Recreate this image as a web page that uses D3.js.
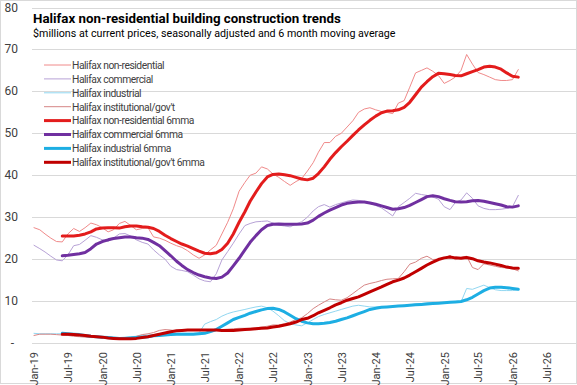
<!DOCTYPE html>
<html>
<head>
<meta charset="utf-8">
<style>
  body {
    margin: 0;
    background: #fff;
  }
  svg text {
    font-family: Roboto, "Liberation Sans", sans-serif;
  }
</style>
<script type="text/javascript" src="https://d3js.org/d3.v7.min.js"></script>
</head>
<body>
<svg id="chart"></svg>
<script type="text/javascript">
// monthly series, Jan-19 .. Feb-26 ($ millions)
let startMonth = new Date(2019, 0, 1)

let nonResidential = [27.5,27,26,25,24.2,24.1,26,27.3,26.6,27.5,
  28.6,28.2,27.5,26.5,27,28.5,29,28,27,27.3,
  27.5,25.3,25,24.5,23.8,23.2,22.8,22,21,20.2,
  21,22.2,23.3,26,28.8,32,36.2,38.3,40,40.5,
  42,41.5,40.3,39.5,38.5,37.6,38.5,39.2,41,43,
  45.5,47.8,47.8,49.3,50,51.5,53,55,55.8,56.1,
  55.6,55.2,55,54.7,57.2,57.8,61,64.4,65,65.6,
  64.8,63.8,61.9,62.6,63.4,65,68.8,66.5,64.5,64,
  63.4,62.8,62.6,62.6,62.8,65.2]

let commercial = [23.3,22.5,21.7,20.7,19.8,19.6,21,23.2,23.5,24.5,
  25.6,25.2,24.6,24.2,25,26,26.1,25.5,24.6,24,
  23.6,22.2,21,20,18.3,17.5,17.3,17,16.2,15.3,
  14.8,14.6,16.5,19.8,21.8,23.8,26,28,28.5,28.9,
  29,29.1,28.6,28.1,27.9,27.7,28.4,28.9,30,31.5,
  32.5,33,32.4,33,33.4,33.8,34.1,34,33.7,33.3,
  32.8,32.2,31.3,30.3,32.5,33.5,34.5,35.7,35.4,35.2,
  34.8,34.3,32.5,31.8,33.5,34.1,35.8,34.5,32.7,32.1,
  31.8,31.8,31.9,32.1,32.5,35.2]

let industrial = [2.3,2.2,2.2,2.2,2.2,2.2,2.1,2,1.9,1.8,
  1.7,1.6,1.5,1.4,1.3,1.3,1.4,1.5,1.6,1.8,
  1.9,2,2.2,2.3,2.3,2.3,2.3,2.3,2.3,2.4,
  4.5,5.1,5.6,6.4,7,7.4,7.7,8,8.3,8.6,
  8.8,8.4,7.6,6.5,5.3,4.6,4.3,4.1,4.8,5.6,
  6.3,6.8,7.2,7.6,8,8.4,8.8,9,8.8,8.6,
  8.6,8.7,8.7,8.7,8.8,9,9.1,9.3,9.4,9.6,
  9.7,9.6,9.5,9.6,9.7,9.8,13,12.8,13.3,13.8,
  13.2,12.7,12.5,12.5,12.5,12.7]

let institutional = [1.8,2.1,2.1,2.1,2,1.9,1.8,1.6,1.5,1.4,
  1.3,1.3,1.3,1.2,1.1,1.1,1.2,1.3,1.6,2,
  2.2,2.5,3,3.2,3.1,2.8,2.9,3,3,3,
  3,3,3.1,3.2,3.3,3.4,3.5,3.5,3.5,3.6,
  3.8,4,4.3,4.3,4.6,5,5.6,6,7,8.2,
  9,9.8,10.5,10.3,10.2,10.8,11.8,12.8,13.8,14.2,
  14.5,14.9,15.2,15.3,15.4,17,18.8,19.3,20.2,20.7,
  19.9,20,20.2,20.9,19.9,20.4,20.7,18,17.5,18.9,
  18.6,18.3,18,17.9,17.7,17.2]

// 6 month moving averages, first value is Jun-19
let nonResidential6mma = [null,null,null,null,null,
  25.5,25.5,25.5,25.7,26,26.5,27.2,27.4,27.5,27.5,
  27.4,27.7,27.9,27.9,27.7,27.6,27.3,26.6,25.7,24.9,
  24.2,23.6,23.1,22.5,21.9,21.4,21.3,21.5,22.3,23.8,
  26,28.8,31.3,33.8,36,38,39.6,40.2,40.3,40.1,
  39.9,39.5,39.1,38.9,39.3,40.4,42,43.8,45.4,46.8,
  48.1,49.5,50.8,52,53.1,54.1,54.9,55.3,55.4,55.6,
  56.2,57.4,59.2,61,62.3,63.5,64.3,64.2,64,63.8,
  63.7,64.2,64.7,65.2,65.8,66,65.8,65.3,64.4,63.6,63.4]

let commercial6mma = [null,null,null,null,null,
  20.8,20.9,21.1,21.3,21.6,22.5,23.6,24.2,24.6,24.9,
  25.1,25.3,25.3,25.1,25,24.7,24,23.2,22,20.8,
  19.5,18.5,17.5,16.8,16.2,15.8,15.5,15.4,15.7,16.7,
  18.4,20.2,22.2,24,25.6,27,28,28.3,28.4,28.3,
  28.3,28.3,28.4,28.6,29.3,30.2,31,31.7,32.3,32.9,
  33.3,33.5,33.6,33.6,33.4,33.1,32.7,32.3,31.9,32,
  32.3,32.8,33.5,34.2,34.9,35.1,34.9,34.4,34,33.7,
  33.6,33.7,33.9,34,33.8,33.5,33.2,32.9,32.5,32.4,32.7]

let industrial6mma = [null,null,null,null,null,
  2.3,2.2,2.1,2,1.8,1.6,1.5,1.4,1.3,1.2,
  1.1,1.1,1.2,1.3,1.4,1.5,1.7,1.8,1.9,2,
  2.1,2.1,2.1,2.1,2.2,2.3,2.7,3.2,4,4.8,
  5.6,6.1,6.6,7.1,7.5,7.9,8.2,8.3,8,7.4,
  6.6,5.8,5.2,4.8,4.6,4.6,4.7,4.9,5.2,5.6,
  6,6.5,7,7.5,8,8.3,8.5,8.6,8.7,8.8,
  8.9,9,9.1,9.2,9.3,9.4,9.5,9.6,9.7,9.8,
  9.9,10.3,10.9,11.7,12.5,13.1,13.3,13.3,13.2,13,12.8]

let institutional6mma = [null,null,null,null,null,
  2.1,2.1,2,1.9,1.8,1.6,1.5,1.4,1.2,1.1,
  1,1,1,1.1,1.3,1.5,1.8,2.1,2.4,2.7,
  2.9,3,3.1,3.1,3.1,3.1,3.1,3.1,3,3,
  3,3.1,3.2,3.3,3.4,3.5,3.6,3.8,4,4.3,
  4.6,5,5.6,5.9,6.5,7.2,7.8,8.4,9.1,9.6,
  10.2,10.6,11,11.6,12.2,12.8,13.4,14,14.6,15,
  15.5,16.2,17,17.8,18.6,19.3,19.9,20.3,20.5,20.3,
  20.2,20.4,20.1,19.6,19.3,19.1,18.8,18.5,18.1,17.9,17.8]

let yTicks = [0, 10, 20, 30, 40, 50, 60, 70, 80]

let seriesNames = ["Halifax non-residential", "Halifax commercial", "Halifax industrial",
  "Halifax institutional/gov't", "Halifax non-residential 6mma", "Halifax commercial 6mma",
  "Halifax industrial 6mma", "Halifax institutional/gov't 6mma"]
let seriesValues = [nonResidential, commercial, industrial, institutional,
  nonResidential6mma, commercial6mma, industrial6mma, institutional6mma]
let seriesColors = ["#F08A8A", "#B7A2D6", "#92D7F1", "#D68585",
  "#E31C1C", "#7030A0", "#1DAEE3", "#C00000"]
let seriesWidths = [1, 1, 1, 1, 3, 3, 3, 3]

let width = 577,
    height = 385

let svg = d3.select('#chart')
    .attr('width', width)
    .attr('height', height)

// outer frame
svg.append('rect')
    .attr('x', 0.5).attr('y', 0.5)
    .attr('width', width - 1).attr('height', height - 2)
    .attr('fill', '#fff')
    .attr('stroke', '#D9D9D9')

let x = d3.scaleTime()
    .domain([startMonth, new Date(2026, 11, 1)])
    .range([34, 575])

let y = d3.scaleLinear()
    .domain([0, 80])
    .range([343, 7.5])

// gridlines
svg.append('g')
  .selectAll('line')
  .data(yTicks)
  .enter()
  .append('line')
    .attr('x1', 32)
    .attr('x2', 576)
    .attr('y1', d => Math.round(y(d)) + 0.5)
    .attr('y2', d => Math.round(y(d)) + 0.5)
    .attr('stroke', '#D9D9D9')

// y labels
svg.append('g')
  .selectAll('text')
  .data(yTicks)
  .enter()
  .append('text')
    .attr('x', d => d === 0 ? 14 : 18)
    .attr('y', d => y(d) + 4)
    .attr('text-anchor', 'end')
    .attr('font-size', 12)
    .attr('fill', '#404040')
    .text(d => d === 0 ? '-' : d)

// x axis labels
let xAxis = d3.axisBottom(x)
    .ticks(d3.timeMonth.every(6))
    .tickFormat(d3.timeFormat('%b-%y'))
    .tickSize(0)

let xg = svg.append('g')
    .attr('transform', 'translate(0,343)')
    .call(xAxis)
xg.select('.domain').remove()
xg.selectAll('text')
    .attr('transform', 'rotate(-90)')
    .attr('text-anchor', 'end')
    .attr('x', -9)
    .attr('y', 0)
    .attr('dy', '0.35em')
    .attr('font-size', 11)
    .attr('font-family', 'Roboto, "Liberation Sans", sans-serif')
    .attr('fill', '#404040')

// lines
let line = d3.line()
    .defined(d => d !== null)
    .x((d, i) => x(d3.timeMonth.offset(startMonth, i)))
    .y(d => y(d))

svg.append('g')
  .selectAll('path')
  .data(seriesValues)
  .enter()
  .append('path')
    .attr('fill', 'none')
    .attr('stroke', (d, i) => seriesColors[i])
    .attr('stroke-width', (d, i) => seriesWidths[i])
    .attr('stroke-linejoin', 'round')
    .attr('stroke-linecap', 'round')
    .attr('d', line)

// title block
svg.append('text')
    .attr('x', 33)
    .attr('y', 23)
    .attr('font-size', 13.3)
    .attr('font-weight', 'bold')
    .attr('fill', '#000')
    .text('Halifax non-residential building construction trends')

svg.append('text')
    .attr('x', 33)
    .attr('y', 37)
    .attr('font-size', 10.7)
    .attr('fill', '#000')
    .text('$millions at current prices, seasonally adjusted and 6 month moving average')

// legend
let legend = svg.append('g')
  .selectAll('g')
  .data(seriesNames)
  .enter()
  .append('g')
    .attr('transform', (d, i) => 'translate(44,' + (65 + i * 13.9) + ')')

legend.append('line')
    .attr('x1', 0).attr('x2', 27)
    .attr('y1', 0).attr('y2', 0)
    .attr('stroke', (d, i) => seriesColors[i])
    .attr('stroke-width', (d, i) => seriesWidths[i])

legend.append('text')
    .attr('x', 28)
    .attr('y', 3.8)
    .attr('font-size', 10.3)
    .attr('letter-spacing', -0.45)
    .attr('fill', '#404040')
    .text(d => d)
</script>
</body>
</html>
